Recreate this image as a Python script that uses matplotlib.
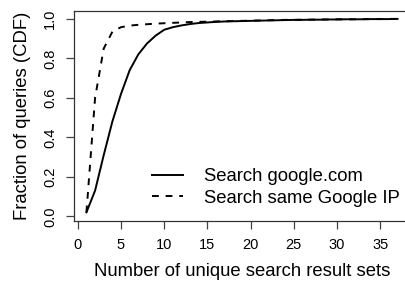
import matplotlib
matplotlib.use('Agg')
import matplotlib.pyplot as plt

plt.rcParams['font.family'] = ['Liberation Sans', 'DejaVu Sans']

# number of unique search result sets
n_sets = list(range(1, 38))

# CDF, searching google.com
cdf_google = [0.02, 0.13, 0.31, 0.48, 0.62, 0.74, 0.82, 0.875, 0.915, 0.945,
              0.958, 0.967, 0.974, 0.979, 0.982, 0.985, 0.987, 0.988, 0.989, 0.990,
              0.991, 0.992, 0.993, 0.994, 0.995, 0.995, 0.996, 0.996, 0.997, 0.997,
              0.998, 0.998, 0.998, 0.999, 0.999, 0.999, 1.0]

# CDF, searching the same Google IP
cdf_same_ip = [0.02, 0.60, 0.85, 0.935, 0.958, 0.966, 0.970, 0.973, 0.976, 0.978,
               0.980, 0.982, 0.984, 0.985, 0.986, 0.987, 0.988, 0.989, 0.990, 0.991,
               0.992, 0.993, 0.994, 0.995, 0.995, 0.996, 0.996, 0.997, 0.997, 0.998,
               0.998, 0.998, 0.999, 0.999, 0.999, 1.0, 1.0]

labels = ["Search google.com", "Search same Google IP"]
xticks = [0, 5, 10, 15, 20, 25, 30, 35]
yticks = [0.0, 0.2, 0.4, 0.6, 0.8, 1.0]

W, H = 405, 282
fig = plt.figure(figsize=(W / 100, H / 100), dpi=100)
# axes box in pixels: left 74, right ~410 (cut off), top 11, bottom 221
ax = fig.add_axes([74 / W, (H - 221) / H, (410 - 74) / W, (221 - 11) / H])

ax.plot(n_sets, cdf_google, color='black', lw=1.4, label=labels[0])
ax.plot(n_sets, cdf_same_ip, color='black', lw=1.4, ls=(0, (3.5, 3.5)), label=labels[1])

ax.set_xlim(-0.44, 38.44)
ax.set_ylim(-0.024, 1.04)
ax.set_xticks(xticks)
ax.set_yticks(yticks)
ax.set_xticklabels([str(t) for t in xticks], fontsize=10.5)
ax.set_yticklabels(["%.1f" % t for t in yticks], fontsize=10.5, rotation=90, va='center')
ax.tick_params(direction='out', length=6, width=0.9, color='#444444', pad=6)

for s in ax.spines.values():
    s.set_linewidth(0.9)
    s.set_color('#333333')

ax.set_xlabel("Number of unique search result sets", fontsize=13.3, labelpad=8)
ax.set_ylabel("Fraction of queries (CDF)", fontsize=13.3, labelpad=9)

ax.legend(loc='upper left', bbox_to_anchor=(152 / W, (H - 168) / H),
          bbox_transform=fig.transFigure, frameon=False, fontsize=13.3,
          handlelength=1.7, handletextpad=1.1, labelspacing=0.25,
          borderpad=0, borderaxespad=0)

fig.savefig("out.png", dpi=100)
